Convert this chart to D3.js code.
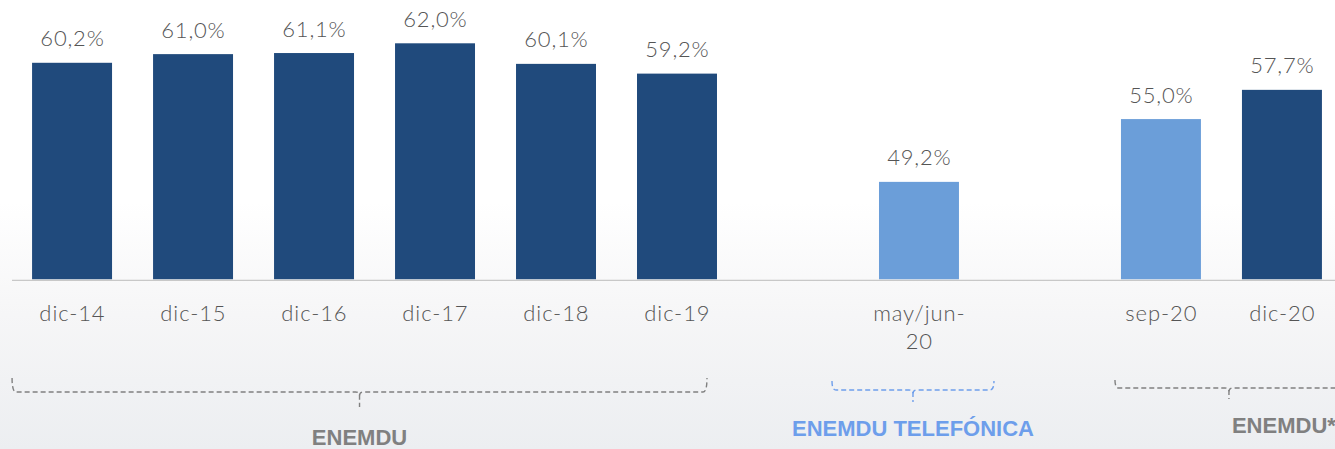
<!DOCTYPE html>
<html>
<head>
<meta charset="utf-8">
<script src="https://cdn.jsdelivr.net/npm/d3@7"></script>
<style>
  html,body{margin:0;padding:0;background:#fff;}
  svg{display:block;}
</style>
</head>
<body>
<svg id="chart" width="1335" height="449"></svg>
<script>
// ---- data ----
const categories = ["dic-14","dic-15","dic-16","dic-17","dic-18","dic-19","may/jun-20","sep-20","dic-20"];
const values     = [60.2, 61.0, 61.1, 62.0, 60.1, 59.2, 49.2, 55.0, 57.7];
const surveys    = ["ENEMDU","ENEMDU","ENEMDU","ENEMDU","ENEMDU","ENEMDU","ENEMDU TELEFÓNICA","ENEMDU*","ENEMDU*"];
const tones      = ["dark","dark","dark","dark","dark","dark","light","light","dark"];
const groupNames = ["ENEMDU","ENEMDU TELEFÓNICA","ENEMDU*"];

// ---- layout ----
const W = 1335, H = 449;
const svg = d3.select("#chart");
const toneColor = {dark:"#204a7c", light:"#6b9ed9"};
const fmt = v => d3.format(".1f")(v).replace(".", ",") + "%";
const labelFont = "'Lato', 'DejaVu Sans', sans-serif";

// background wash
const defs = svg.append("defs");
const grad = defs.append("linearGradient").attr("id","bg").attr("x1",0).attr("y1",0).attr("x2",0).attr("y2",1);
grad.append("stop").attr("offset","0%").attr("stop-color","#ffffff");
grad.append("stop").attr("offset","45%").attr("stop-color","#ffffff");
grad.append("stop").attr("offset","70%").attr("stop-color","#f6f6f7");
grad.append("stop").attr("offset","100%").attr("stop-color","#eceef1");
svg.append("rect").attr("width",W).attr("height",H).attr("fill","url(#bg)");

// band domain: insert an empty slot between survey groups
const domain = [];
categories.forEach((c,i) => {
  if (i > 0 && surveys[i] !== surveys[i-1]) domain.push("__gap" + i);
  domain.push(c);
});
const x = d3.scaleBand().domain(domain).range([11.5, 1342.5]).paddingInner(0.339).paddingOuter(0.17);
const y = d3.scaleLinear().domain([40.2, 62]).range([279.3, 43.3]);

const data = categories.map((c,i) => ({cat:c, v:values[i], tone:tones[i], survey:surveys[i]}));

// bars
svg.append("g").selectAll("rect").data(data).join("rect")
  .attr("x", d => x(d.cat))
  .attr("y", d => y(d.v))
  .attr("width", x.bandwidth())
  .attr("height", d => y(40.2) - y(d.v))
  .attr("fill", d => toneColor[d.tone]);

// axis line
const axis = svg.append("g").attr("transform", `translate(0,${y(40.2)+0.5})`)
  .call(d3.axisBottom(x).tickSize(0).tickFormat(""));
axis.select(".domain").attr("stroke","#c8c8c8").attr("stroke-width",1.3);

// value labels
svg.append("g").selectAll("text").data(data).join("text")
  .attr("x", d => x(d.cat) + x.bandwidth()/2 + 0.4)
  .attr("y", d => y(d.v) - 16.5)
  .attr("text-anchor","middle")
  .attr("font-family", labelFont)
  .attr("font-weight", 300)
  .attr("font-size", 22)
  .attr("letter-spacing", 0.8)
  .attr("fill","#555555")
  .text(d => fmt(d.v));

// category labels (wrap after hyphen when too long)
const catG = svg.append("g");
data.forEach(d => {
  const cx = x(d.cat) + x.bandwidth()/2 + 0.4;
  const t = catG.append("text")
    .attr("x", cx)
    .attr("y", 320.5)
    .attr("text-anchor","middle")
    .attr("font-family", labelFont)
    .attr("font-weight", 300)
    .attr("font-size", 22)
    .attr("letter-spacing", 0.9)
    .attr("fill","#555555");
  const parts = d.cat.length > 7 ? [d.cat.slice(0, d.cat.lastIndexOf("-")+1), d.cat.slice(d.cat.lastIndexOf("-")+1)] : [d.cat];
  parts.forEach((p,j) => t.append("tspan").attr("x", cx).attr("dy", j ? 28.5 : 0).text(p));
});

// survey brackets
const bw = x.bandwidth();
const catsOf = g => categories.filter((c,i) => surveys[i] === g);
const bracketStyle = {
  "ENEMDU":            {pad0:-20, pad1:-10, top:378, line:392, down:407, color:"#808080", text:"#808080", ty:445, anchor:"middle", size:22},
  "ENEMDU TELEFÓNICA": {pad0:-47, pad1:35,  top:381, line:390, down:402, color:"#6d9eeb", text:"#6d9eeb", ty:436, anchor:"middle", size:22},
  "ENEMDU*":           {pad0:-6,  pad1:21,  top:380, line:388, down:399, color:"#808080", text:"#808080", ty:433, anchor:"start", size:22}
};
const bg = svg.append("g");
groupNames.forEach(g => {
  const s = bracketStyle[g];
  const cs = catsOf(g);
  const x0 = x(cs[0]) + s.pad0;
  const x1 = x(cs[cs.length-1]) + bw + s.pad1;
  const xc = (x0 + x1) / 2;
  const path = `M${x0},${s.top} Q${x0},${s.line} ${x0+4},${s.line} L${xc-4},${s.line} Q${xc},${s.line} ${xc},${s.line+4} L${xc},${s.down} M${xc},${s.line+4} Q${xc},${s.line} ${xc+4},${s.line} L${x1-4},${s.line} Q${x1},${s.line} ${x1},${s.top}`;
  bg.append("path").attr("d", path).attr("fill","none")
    .attr("stroke", s.color).attr("stroke-width",1.4).attr("stroke-dasharray","5,3");
  bg.append("text")
    .attr("x", s.anchor === "start" ? xc + 3 : xc)
    .attr("y", s.ty)
    .attr("text-anchor", s.anchor)
    .attr("font-family","'Liberation Sans', Arial, sans-serif")
    .attr("font-weight","bold")
    .attr("font-size", s.size)
    .attr("fill", s.text)
    .text(g);
});
</script>
</body>
</html>
